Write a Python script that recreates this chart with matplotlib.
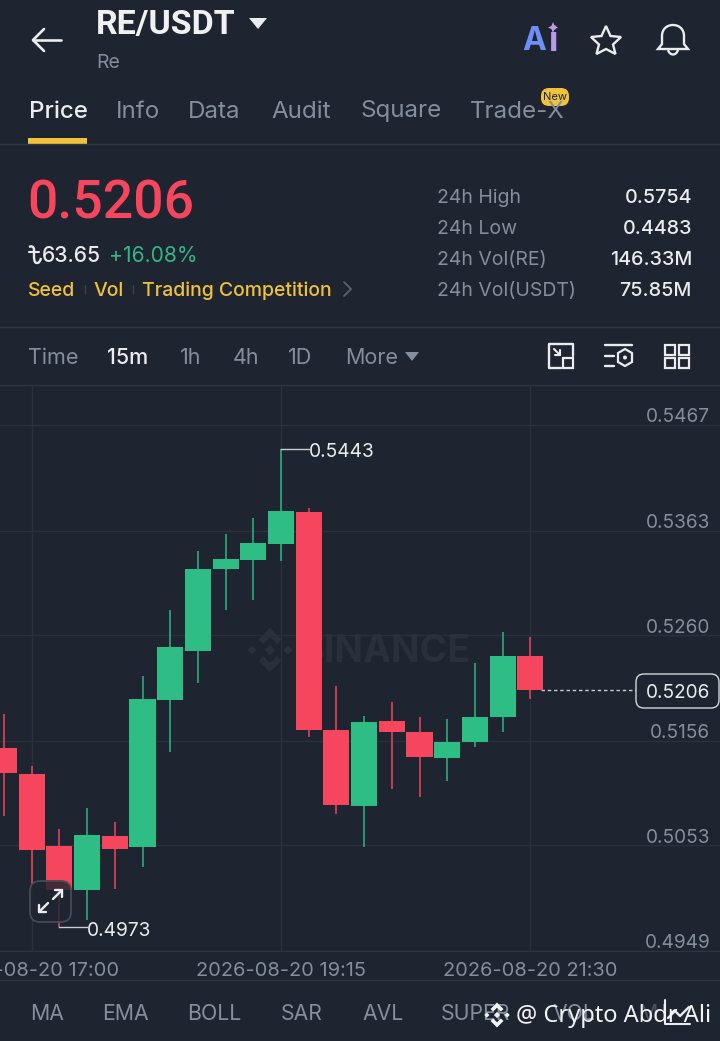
import matplotlib
matplotlib.use("Agg")
import matplotlib.pyplot as plt
from matplotlib.patches import Polygon, FancyBboxPatch, Rectangle, Circle, PathPatch
from matplotlib.path import Path
from matplotlib.transforms import ScaledTranslation

BG = "#1e2430"
LINE = "#2f3540"
GRID = "#2b313b"
GRAY = "#848e9c"
WHITE = "#eaecef"
RED = "#f6465d"
GREEN = "#2ebd85"
YELLOW = "#f0c23c"

plt.rcParams["font.family"] = ["Inter", "Noto Sans", "DejaVu Sans"]

# candles, oldest first
opens = [0.51489, 0.51233, 0.50524, 0.50091, 0.50622, 0.50514, 0.51962, 0.52444, 0.53252, 0.53341,
         0.53498, 0.53813, 0.51666, 0.50918, 0.51755, 0.51647, 0.51391, 0.51548, 0.51794, 0.52395]
closes = [0.51243, 0.50485, 0.50091, 0.50632, 0.50494, 0.51972, 0.52484, 0.53252, 0.53350, 0.53508,
          0.53823, 0.51666, 0.50928, 0.51745, 0.51647, 0.51400, 0.51548, 0.51794, 0.52395, 0.52060]
highs = [0.51824, 0.51312, 0.50691, 0.50898, 0.50760, 0.52198, 0.52848, 0.53429, 0.53597, 0.53754,
         0.54430, 0.53853, 0.52100, 0.51804, 0.51942, 0.51794, 0.51775, 0.52326, 0.52631, 0.52582]
lows = [0.50819, 0.50140, 0.49730, 0.49795, 0.50101, 0.50317, 0.51450, 0.52129, 0.52848, 0.52947,
        0.53331, 0.51597, 0.50839, 0.50514, 0.51085, 0.51007, 0.51164, 0.51499, 0.51647, 0.51972]

price_ticks = [0.5467, 0.5363, 0.5260, 0.5156, 0.5053, 0.4949]
time_ticks = [1, 10, 19]
time_labels = ["2026-08-20 17:00", "2026-08-20 19:15", "2026-08-20 21:30"]
last_price = 0.5206

tabs = [("Price", 29), ("Info", 116), ("Data", 188), ("Audit", 271), ("Square", 360), ("Trade-X", 470)]
stat_names = ["24h High", "24h Low", "24h Vol(RE)", "24h Vol(USDT)"]
stat_values = ["0.5754", "0.4483", "146.33M", "75.85M"]
intervals = [("Time", 28), ("15m", 107), ("1h", 180), ("4h", 233), ("1D", 288), ("More", 345)]
indicators = [("MA", 30), ("EMA", 102), ("BOLL", 187), ("SAR", 281), ("AVL", 362), ("SUPER", 441), ("VOL", 552), ("M", 638)]


def txt(ax, x, y, s, size, color=WHITE, ha="left", weight="normal", **kw):
    # va=center sits a little high against the screenshot
    return ax.text(x, y + 3.5, s, fontsize=size, color=color, ha=ha, va="center", fontweight=weight, **kw)


def seg(ax, xs, ys, color=WHITE, lw=1.6, **kw):
    ax.plot(xs, ys, color=color, lw=lw, solid_capstyle="round", solid_joinstyle="round", **kw)


def logo(ax, cx, cy, s, color):
    def add(pts):
        ax.add_patch(Polygon([(cx + a * s, cy + b * s) for a, b in pts], closed=True, fc=color, ec="none"))
    add([(0, -.24), (.24, 0), (0, .24), (-.24, 0)])
    add([(-.78, -.2), (-.58, 0), (-.78, .2), (-.98, 0)])
    add([(.78, -.2), (.98, 0), (.78, .2), (.58, 0)])
    add([(-.5, -.46), (0, -.96), (.5, -.46), (.3, -.26), (0, -.56), (-.3, -.26)])
    add([(-.5, .46), (0, .96), (.5, .46), (.3, .26), (0, .56), (-.3, .26)])


fig = plt.figure(figsize=(7.2, 10.41), dpi=100, facecolor=BG)

# pixel-space layer under the chart: header, separators, watermark
back = fig.add_axes([0, 0, 1, 1], zorder=0)
back.set_xlim(0, 720)
back.set_ylim(1041, 0)
back.axis("off")

txt(back, 96, 21.5, "RE/USDT", 24.5, "#f0f1f3", weight="bold", family="Roboto")
back.add_patch(Polygon([(249, 18), (267, 18), (258, 29)], closed=True, fc=WHITE, ec="none"))
txt(back, 96, 59, "Re", 14, GRAY)
seg(back, [33, 61], [40, 40], lw=1.9)
seg(back, [44, 33, 44], [29, 40, 51], lw=1.9)

# Ai badge
txt(back, 522, 38.5, "A", 23, "#6f8ff5", weight="bold")
txt(back, 553, 38.5, "i", 25, "#b79be8", ha="center", weight="bold")
back.add_patch(Polygon([(553, 22), (554.5, 26), (558, 27.5), (554.5, 29), (553, 33), (551.5, 29), (548, 27.5), (551.5, 26)],
                       closed=True, fc="#d9a3d8", ec="none"))

# star
back.add_patch(Polygon([(606, 26), (610.5, 36), (621, 37), (613, 44.5), (615.5, 54), (606, 49), (596.5, 54),
                        (599, 44.5), (591, 37), (601.5, 36)], closed=True, fc="none", ec=WHITE, lw=1.7))
# bell
bell = Path([(658, 49), (662, 44), (662, 36), (662, 29), (667, 25), (673, 25), (679, 25), (684, 29), (684, 36),
             (684, 44), (688, 49), (658, 49)],
            [Path.MOVETO, Path.LINETO, Path.LINETO, Path.CURVE4, Path.CURVE4, Path.CURVE4, Path.CURVE4, Path.CURVE4,
             Path.LINETO, Path.LINETO, Path.LINETO, Path.CLOSEPOLY])
back.add_patch(PathPatch(bell, fc="none", ec=WHITE, lw=1.7))
back.add_patch(PathPatch(Path([(668, 50), (670, 56), (676, 56), (678, 50)],
                              [Path.MOVETO, Path.CURVE4, Path.CURVE4, Path.CURVE4]), fc="none", ec=WHITE, lw=1.7))

for i, (name, x) in enumerate(tabs):
    txt(back, x, 108, name, 17.4, WHITE if i == 0 else GRAY, weight="medium" if i == 0 else "normal")
back.add_patch(Rectangle((28, 138), 59, 6, fc=YELLOW, ec="none"))
back.add_patch(FancyBboxPatch((545, 92), 20, 10, boxstyle="round,pad=4,rounding_size=8", fc=YELLOW, ec="none"))
txt(back, 555, 93.5, "New", 8, "#1e2430", ha="center")

for y in [144, 327, 385, 980]:
    back.plot([0, 720], [y, y], color=LINE, lw=1)

txt(back, 27, 200.5, "0.5206", 38.5, RED, weight="medium", family="Roboto")
# no installed family has the taka sign, so it is drawn
taka = Path([(29, 247), (33, 245), (34, 249), (34, 255), (34, 259), (34, 263), (37, 263), (40, 263), (41, 258)],
            [Path.MOVETO, Path.CURVE3, Path.CURVE3, Path.LINETO, Path.CURVE4, Path.CURVE4, Path.CURVE4,
             Path.CURVE3, Path.CURVE3])
back.add_patch(PathPatch(taka, fc="none", ec=WHITE, lw=1.7))
seg(back, [29, 39], [252, 252], lw=1.5)
txt(back, 42, 252, "63.65", 15.2, WHITE, weight="medium")
txt(back, 109, 252, "+16.08%", 15.2, "#35b586")
txt(back, 28, 287, "Seed", 14, YELLOW, weight="medium")
txt(back, 94, 287, "Vol", 14, YELLOW, weight="medium")
txt(back, 142, 287, "Trading Competition", 14, YELLOW, weight="medium")
seg(back, [84.5, 84.5], [285, 293], color="#3a404b", lw=1)
seg(back, [132.5, 132.5], [285, 293], color="#3a404b", lw=1)
seg(back, [344, 351, 344], [282, 289, 296], color="#5a616d", lw=1.3)

for i, (name, value) in enumerate(zip(stat_names, stat_values)):
    y = 194.5 + 31 * i
    txt(back, 437, y, name, 14, GRAY)
    txt(back, 692, y, value, 14.2, WHITE, ha="right", weight="medium")

for i, (name, x) in enumerate(intervals):
    txt(back, x, 355, name, 15.5, WHITE if i == 1 else GRAY, weight="medium" if i == 1 else "normal")
back.add_patch(Polygon([(405, 352), (419, 352), (412, 361)], closed=True, fc=GRAY, ec="none"))

# toolbar icons
seg(back, [561, 549, 549, 558], [368, 368, 344, 344], lw=1.7)
seg(back, [558, 573, 573], [344, 344, 356], lw=1.7)
seg(back, [554, 560], [349, 355], lw=1.5)
seg(back, [560, 560, 555], [350, 355, 355], lw=1.5)
back.add_patch(Rectangle((563, 358), 10, 10, fc="none", ec=WHITE, lw=1.6))
seg(back, [605, 632], [345, 345], lw=1.7)
seg(back, [605, 614], [356, 356], lw=1.7)
seg(back, [605, 614], [366, 366], lw=1.7)
back.add_patch(Polygon([(625, 349), (632, 353), (632, 362), (625, 366), (618, 362), (618, 353)], closed=True,
                       fc="none", ec=WHITE, lw=1.6))
back.add_patch(Circle((625, 357.5), 2, fc=WHITE, ec="none"))
for x0 in [665, 679]:
    for y0 in [345, 358]:
        back.add_patch(Rectangle((x0, y0), 10, 10, fc="none", ec=WHITE, lw=1.6))

# faint watermark sits behind the candles
logo(back, 270, 650, 23, "#2a303b")
txt(back, 300, 648, "BINANCE", 27, "#2a303b", weight="bold")

for name, x in indicators:
    txt(back, x, 1010, name, 15.3, GRAY if name != "M" else "#4d535e")

# candle chart, positioned so that the price scale lands on the screen gridlines
ax = fig.add_axes([0, (1041 - 951) / 1041, 1, (951 - 386) / 1041], zorder=1)
ax.patch.set_alpha(0)
ax.set_xlim(-4 / 27.7, 716 / 27.7)
ax.set_ylim(0.4949, 0.55054)
for side in ax.spines.values():
    side.set_visible(False)
ax.spines["bottom"].set_visible(True)
ax.spines["bottom"].set_color(LINE)
ax.set_axisbelow(True)
ax.grid(True, color=GRID, lw=1)

idx = list(range(len(opens)))
colors = [GREEN if c >= o else RED for o, c in zip(opens, closes)]
ax.vlines(idx, lows, highs, colors=colors, lw=1.25, alpha=0.85, zorder=2)
ax.bar(idx, [abs(c - o) for o, c in zip(opens, closes)], bottom=[min(o, c) for o, c in zip(opens, closes)],
       width=0.94, color=colors, zorder=3)

ax.yaxis.tick_right()
ax.set_yticks(price_ticks)
ax.set_yticklabels([f"{p:.4f}" for p in price_ticks])
ax.tick_params(axis="y", length=0, pad=-7, labelsize=13.7, labelcolor=GRAY)
nudge = ScaledTranslation(0, -1.5 / 100, fig.dpi_scale_trans)
for lab in ax.get_yticklabels():
    lab.set_ha("right")
    lab.set_va("bottom")
    lab.set_transform(lab.get_transform() + nudge)
ax.set_xticks(time_ticks)
ax.set_xticklabels(time_labels)
ax.tick_params(axis="x", length=0, pad=8, labelsize=14.4, labelcolor=GRAY)

# extreme price callouts and last price line
ax.plot([10, 11], [highs[10], highs[10]], color="#c9ccd1", lw=1, zorder=4)
ax.annotate(f"{highs[10]:.4f}", (11, highs[10]), xytext=(0, -2.2), textcoords="offset points", color=WHITE,
            fontsize=13.8, va="center", ha="left", zorder=5)
ax.plot([2, 3], [lows[2], lows[2]], color="#c9ccd1", lw=1, zorder=4)
ax.annotate(f"{lows[2]:.4f}", (3, lows[2]), xytext=(0, -3.4), textcoords="offset points", color=WHITE,
            fontsize=13.8, va="center", ha="left", zorder=5)
ax.plot([19.4, 22.8], [last_price, last_price], color="#c9ccd1", lw=1, ls=(0, (2.5, 2)), zorder=2)

# pixel-space layer above the chart
top = fig.add_axes([0, 0, 1, 1], zorder=2)
top.patch.set_alpha(0)
top.set_xlim(0, 720)
top.set_ylim(1041, 0)
top.axis("off")

top.add_patch(FancyBboxPatch((636, 674), 83, 34, boxstyle="round,pad=0,rounding_size=8", fc=BG, ec="#d5d8dc", lw=1))
txt(top, 678, 689.5, f"{last_price:.4f}", 13.7, WHITE, ha="center")

# chart expand button
top.add_patch(FancyBboxPatch((30, 881), 41, 41, boxstyle="round,pad=0,rounding_size=10", fc=BG, alpha=0.82,
                             ec="none"))
top.add_patch(FancyBboxPatch((30, 881), 41, 41, boxstyle="round,pad=0,rounding_size=10", fc="none", ec="#454a55", lw=1.3))
seg(top, [53, 62], [899, 890], lw=1.7)
seg(top, [55, 62, 62], [890, 890, 897], lw=1.7)
seg(top, [39, 48], [912, 903], lw=1.7)
seg(top, [39, 39, 46], [905, 912, 912], lw=1.7)

# image credit stamped over the toolbar
logo(top, 497, 1015, 13, "#f2f3f5")
txt(top, 516, 1012, "@ Crypto Abdr Ali", 17, "#f2f3f5", family="Noto Sans")
seg(top, [665, 665, 690], [1000, 1024, 1024], lw=1.5)
seg(top, [668, 675, 680, 689], [1018, 1011, 1016, 1007], lw=1.7)

fig.savefig("out.png", dpi=100, facecolor=BG)
